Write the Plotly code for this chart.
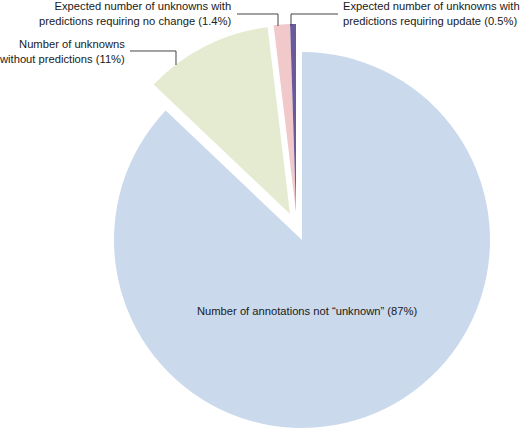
import plotly.graph_objects as go

W, H = 520, 433

# ---- data ----
labels = [
    "Number of annotations not “unknown”",
    "Number of unknowns<br>without predictions",
    "Expected number of unknowns with<br>predictions requiring no change",
    "Expected number of unknowns with<br>predictions requiring update",
]
values = [87, 11, 1.4, 0.5]
colors = ["#CAD9EC", "#E4EBD0", "#F2C9CB", "#6A5A9C"]

# ---- layout (pixels) ----
R = 188
centers = [(302, 240), (290, 214), (296, 212), (296, 212)]  # pulled-out slices drawn offset


def px_x(x):
    return x / W


def px_y(y):
    return (H - y) / H


fig = go.Figure()
for i, (cx, cy) in enumerate(centers):
    slice_colors = [c if j == i else "rgba(0,0,0,0)" for j, c in enumerate(colors)]
    fig.add_trace(go.Pie(
        labels=[l.replace("<br>", " ") for l in labels],
        values=values,
        sort=False,
        direction="clockwise",
        rotation=0,
        textinfo="none",
        hoverinfo="label+percent",
        marker=dict(colors=slice_colors, line=dict(width=0)),
        domain=dict(x=[(cx - R) / W, (cx + R) / W],
                    y=[(H - cy - R) / H, (H - cy + R) / H]),
        showlegend=False,
    ))

font = dict(family="Liberation Sans, Arial, Helvetica, sans-serif", size=11.2, color="#1a1a1a")

label_pos = [
    dict(x=307, y=311, xanchor="center", align="center"),
    dict(x=127, y=51, xanchor="right", align="right"),
    dict(x=233, y=14, xanchor="right", align="right"),
    dict(x=341, y=14, xanchor="left", align="left"),
]
annotations = []
for lab, v, p in zip(labels, values, label_pos):
    annotations.append(dict(
        text=f"{lab} ({v:g}%)",
        x=px_x(p["x"]), y=px_y(p["y"]), xref="paper", yref="paper",
        xanchor=p["xanchor"], yanchor="middle", align=p["align"],
        showarrow=False, font=font,
    ))

leaders = [
    [(130, 51), (176, 51), (176, 65)],
    [(237, 14), (278, 14), (278, 26)],
    [(338, 14), (291, 14), (291, 26)],
]
shapes = []
for pts in leaders:
    path = "M " + " L ".join(f"{px_x(x):.5f},{px_y(y):.5f}" for x, y in pts)
    shapes.append(dict(type="path", path=path, xref="paper", yref="paper",
                       line=dict(color="#444444", width=1)))

fig.update_layout(
    width=W, height=H,
    margin=dict(l=0, r=0, t=0, b=0),
    paper_bgcolor="white",
    plot_bgcolor="white",
    annotations=annotations,
    shapes=shapes,
)

fig.write_html("out.html", config={"displayModeBar": False},
               post_script="document.body.style.margin='0';")
